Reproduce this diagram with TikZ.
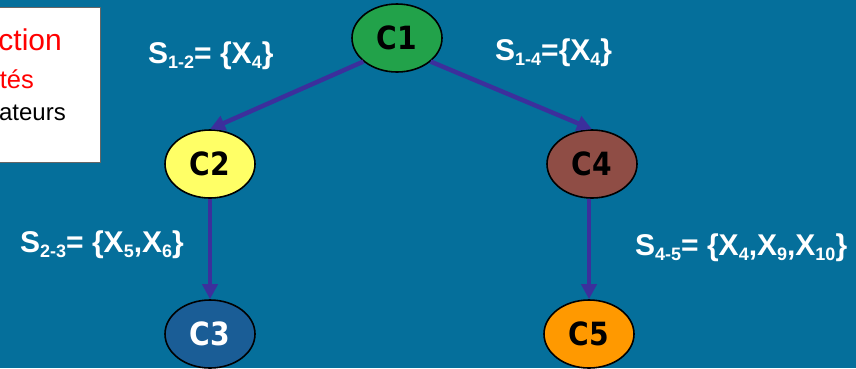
\documentclass[tikz,border=0pt]{standalone}
\usepackage{fontspec}
\usepackage{graphicx}
\setmainfont{Liberation Sans}
\newfontfamily\nodefont{DejaVu Sans}
\usetikzlibrary{arrows.meta,shapes.geometric}
\definecolor{bgblue}{HTML}{056F9B}
\definecolor{cgreen}{HTML}{22A24A}
\definecolor{cyellow}{HTML}{FFFF66}
\definecolor{cblue}{HTML}{1A5D96}
\definecolor{cbrown}{HTML}{8F4D45}
\definecolor{corange}{HTML}{FF9900}
\definecolor{arrowcol}{HTML}{3C2F9C}
\definecolor{boxred}{HTML}{FF0000}
\newcommand{\sbx}[1]{\raisebox{-5pt}{\fontsize{18}{18}\selectfont #1}}
\newcommand{\ctxt}[1]{\scalebox{0.88}[1]{#1}}
\tikzset{
  cnode/.style={ellipse, draw=black, line width=1.6pt, minimum width=90pt, minimum height=68pt, inner sep=0pt,
    font=\nodefont\bfseries\fontsize{32}{32}\selectfont},
  conn/.style={draw=arrowcol, line width=4.5pt, -{Triangle[length=15pt,width=15pt]}},
  setlabel/.style={anchor=base west, inner sep=0pt, text=white, font=\bfseries\fontsize{30}{30}\selectfont},
  boxtext/.style={anchor=base east, inner sep=0pt}
}
\begin{document}
\begin{tikzpicture}[x=1pt,y=-1pt]
\clip (0,0) rectangle (856,368);
\fill[bgblue] (0,0) rectangle (856,368);
% partial white box
\draw[fill=white, draw=black!60, line width=0.6pt] (-20,7) rectangle (100,162);
\node[boxtext, text=boxred, font=\fontsize{30}{30}\selectfont] (t1) at (62,50) {ction};
\node[boxtext, text=boxred, font=\fontsize{25.5}{25.5}\selectfont] (t2) at (34,88) {tés};
\node[boxtext, text=black, font=\fontsize{24}{24}\selectfont] (t3) at (66,120) {ateurs};
% nodes
\node[cnode, fill=cgreen] (C1) at (397,38) {\ctxt{C1}};
\node[cnode, fill=cyellow] (C2) at (210,164) {\ctxt{C2}};
\node[cnode, fill=cblue, text=white] (C3) at (210,334) {\ctxt{C3}};
\node[cnode, fill=cbrown] (C4) at (592,164) {\ctxt{C4}};
\node[cnode, fill=corange] (C5) at (589,334) {\ctxt{C5}};
% connectors
\draw[conn] (C1.215) -- (C2.north);
\draw[conn] (C1.-35) -- (C4.north);
\draw[conn] (C2.south) -- (C3.north);
\draw[conn] (C4.south -| C5.north) -- (C5.north);
% labels
\node[setlabel] (s12) at (148,63) {S\sbx{1-2}= \{X\sbx{4}\}};
\node[setlabel] (s14) at (495,60) {S\sbx{1-4}=\{X\sbx{4}\}};
\node[setlabel] (s23) at (20,252) {S\sbx{2-3}= \{X\sbx{5},X\sbx{6}\}};
\node[setlabel] (s45) at (635,255) {S\sbx{4-5}= \{X\sbx{4},X\sbx{9},X\sbx{10}\}};
\end{tikzpicture}
\end{document}
